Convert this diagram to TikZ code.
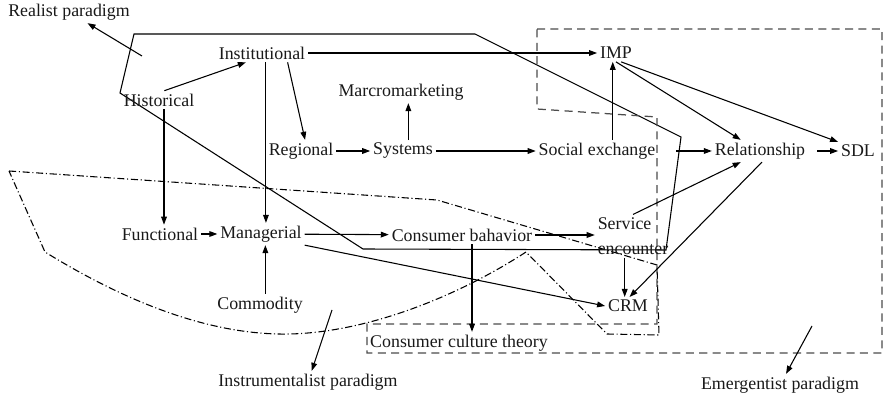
\documentclass[tikz,border=0pt]{standalone}
\usepackage{fontspec}
\setmainfont{Liberation Serif}
\usetikzlibrary{arrows.meta, calc}

\begin{document}
\begin{tikzpicture}[
    x=0.56pt, y=-0.56pt,
    every node/.style={font=\fontsize{10}{12}\selectfont, inner sep=1.5pt, text=black!90},
    concept/.style={},
    paradigm/.style={},
    link/.style={draw, line width=0.6pt, -{Stealth[length=4.5pt, width=3.2pt, inset=0pt]}},
    realistline/.style={draw, line width=0.6pt},
    instrline/.style={draw, line width=0.6pt, dash pattern=on 4pt off 1.5pt on 0.6pt off 1.5pt},
    emergline/.style={draw, line width=0.7pt, black!70, dash pattern=on 4.5pt off 3pt},
  ]
    \useasboundingbox (0,0) rectangle (883,399);

    % paradigm borders
    \draw[realistline] (134,34) -- (475,34) -- (681,137) -- (666,250) -- (363,249) -- (120,93) -- cycle;
    \draw[instrline] (9,171) -- (437,200) -- (657,265) -- (659,335) -- (607,334) -- (526,252)
      .. controls (460,295) and (370,332) .. (290,334)
      .. controls (200,336) and (110,292) .. (45,252) -- cycle;
    \draw[emergline] (537,29) -- (882,29) -- (882,353) -- (367,353) -- (367,324) -- (657,324)
      -- (657,117) -- (537,109) -- cycle;

    \node[paradigm] (realist) at (69,12) {Realist paradigm};
    \node[paradigm] (instr) at (308,382) {Instrumentalist paradigm};
    \node[paradigm] (emerg) at (780,385) {Emergentist paradigm};

    \node[concept] (hist) at (159,100) {Historical};
    \node[concept] (inst) at (262,53) {Institutional};
    \node[concept] (marc) at (401,92) {Marcromarketing};
    \node[concept] (reg) at (301,151) {Regional};
    \node[concept] (sys) at (403,151) {Systems};
    \node[concept] (soc) at (597,151) {Social exchange};
    \node[concept] (imp) at (616,53) {IMP};
    \node[concept] (rel) at (760,151) {Relationship};
    \node[concept] (sdl) at (858,151) {SDL};
    \node[concept] (func) at (160,234) {Functional};
    \node[concept] (mgr) at (261,234) {Managerial};
    \node[concept] (com) at (260,305) {Commodity};
    \node[concept] (cb) at (462,235) {Consumer bahavior};
    \node[concept, align=left] (se) at (633,236) {Service\\[2pt]encounter};
    \node[concept] (crm) at (628,306) {CRM};
    \node[concept] (cct) at (459,343) {Consumer culture theory};

    \coordinate (realist-tail) at (142,56);
    \coordinate (instr-tail) at (332,310);
    \coordinate (emerg-tail) at (812,326);

    \draw[link] (realist-tail) -- (realist);
    \draw[link] (instr-tail) -- (instr);
    \draw[link] (emerg-tail) -- (emerg);

    \draw[link] (hist.60) -- (inst.210);
    \draw[link] (inst) -- (imp);
    \draw[link] (inst.-20) -- (reg.70);
    \draw[link] ([xshift=2.2pt]inst.south) -- ([xshift=2.2pt]inst.south |- mgr.north);
    \draw[link] ([xshift=2.8pt]hist.south) -- ([xshift=2.8pt]hist.south |- func.north);
    \draw[link] (reg) -- (sys);
    \draw[link] ([xshift=3pt]sys.north) -- ([xshift=3pt]sys.north |- marc.south);
    \draw[link] (sys) -- (soc);
    \draw[link] (imp.250 |- soc.north) -- (imp.250);
    \draw[link] (imp.south) -- (rel.150);
    \draw[link] (imp.-60) -- (sdl.north west);
    \draw[link, shorten <=10pt] (soc) -- (rel);
    \draw[link, shorten <=5pt] (rel) -- (sdl);
    \draw[link] (func) -- (mgr);
    \draw[link] ([xshift=3pt]com.north) -- ([xshift=3pt]com.north |- mgr.south);
    \draw[link] (mgr) -- (cb);
    \draw[link] (cb.east) -- (cb.east -| se.west);
    \draw[link] ([xshift=5.6pt]cb.south) -- ([xshift=5.6pt]cb.south |- cct.north);
    \draw[link] (mgr.south east) -- (crm.west);
    \draw[link] (crm.110 |- se.south) -- (crm.110);
    \draw[link] (rel.-80) -- (crm.80);
    \draw[link] (se.north) -- (rel.210);
\end{tikzpicture}
\end{document}
